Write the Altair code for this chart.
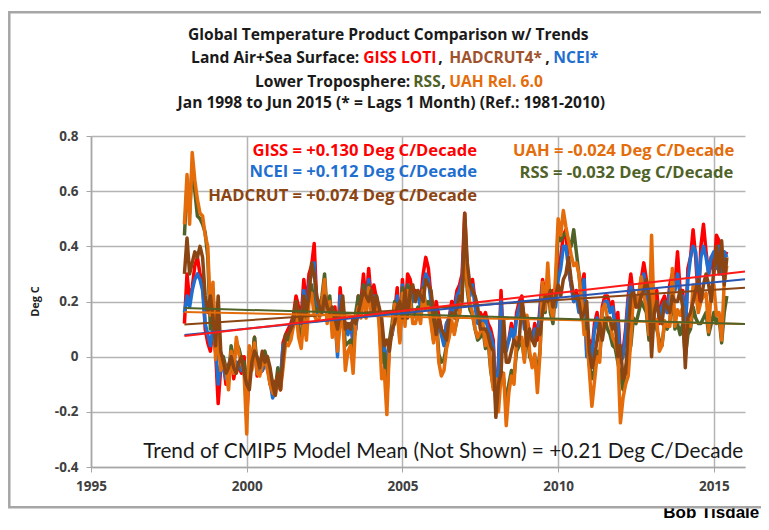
import altair as alt
import numpy as np
import pandas as pd

# ---------------- data (monthly, Jan 1998 .. Jun 2015) ----------------
giss = [
    0.12, 0.30, 0.20, 0.25, 0.33, 0.36, 0.30, 0.28, 0.10, 0.05, 0.02, 0.10,
    0.02, -0.17, -0.04, -0.02, -0.10, -0.03, 0.00, -0.08, -0.02, -0.04, -0.06, 0.00,
    -0.22, -0.05, -0.03, 0.07, -0.07, -0.06, -0.05, -0.02, -0.03, -0.10, -0.12, -0.09,
    -0.08, -0.12, 0.05, 0.08, 0.10, 0.12, 0.15, 0.22, 0.18, 0.14, 0.28, 0.18,
    0.30, 0.33, 0.41, 0.19, 0.20, 0.17, 0.22, 0.15, 0.19, 0.14, 0.18, 0.05,
    0.25, 0.14, 0.12, 0.10, 0.12, 0.05, 0.10, 0.22, 0.20, 0.30, 0.19, 0.32,
    0.20, 0.26, 0.21, 0.17, 0.00, 0.02, -0.16, 0.06, 0.08, 0.16, 0.25, 0.08,
    0.28, 0.15, 0.30, 0.28, 0.22, 0.24, 0.22, 0.20, 0.30, 0.36, 0.32, 0.22,
    0.12, 0.20, 0.15, 0.10, 0.06, 0.12, 0.14, 0.20, 0.18, 0.24, 0.26, 0.30,
    0.52, 0.30, 0.24, 0.28, 0.20, 0.14, 0.16, 0.14, 0.16, 0.12, 0.10, 0.06,
    -0.18, -0.02, 0.24, 0.02, 0.04, 0.06, 0.12, 0.06, 0.16, 0.20, 0.22, 0.12,
    0.14, 0.08, 0.06, 0.12, 0.06, 0.18, 0.28, 0.22, 0.28, 0.20, 0.24, 0.20,
    0.30, 0.36, 0.44, 0.46, 0.32, 0.26, 0.20, 0.24, 0.18, 0.26, 0.30, 0.02,
    0.06, 0.02, 0.12, 0.16, 0.06, 0.18, 0.22, 0.22, 0.18, 0.20, 0.12, 0.16,
    0.00, 0.02, 0.10, 0.22, 0.30, 0.22, 0.20, 0.22, 0.28, 0.34, 0.28, 0.12,
    0.22, 0.20, 0.24, 0.12, 0.20, 0.22, 0.16, 0.26, 0.30, 0.26, 0.38, 0.24,
    0.24, 0.08, 0.32, 0.36, 0.46, 0.36, 0.20, 0.40, 0.48, 0.38, 0.30, 0.36,
    0.30, 0.44, 0.42, 0.30, 0.36, 0.38,
]
ncei = [
    0.16, 0.22, 0.18, 0.24, 0.28, 0.30, 0.28, 0.24, 0.12, 0.08, 0.04, 0.10,
    0.04, -0.10, -0.03, -0.04, -0.08, -0.04, 0.00, -0.06, -0.02, -0.03, -0.05, -0.02,
    -0.18, -0.04, -0.03, 0.05, -0.06, -0.05, -0.05, -0.03, -0.04, -0.09, -0.15, -0.12,
    -0.10, -0.08, 0.04, 0.06, 0.08, 0.10, 0.14, 0.18, 0.16, 0.12, 0.24, 0.14,
    0.26, 0.30, 0.34, 0.16, 0.18, 0.16, 0.20, 0.14, 0.16, 0.12, 0.14, 0.00,
    0.22, 0.12, 0.10, 0.08, 0.12, 0.06, 0.10, 0.18, 0.18, 0.26, 0.16, 0.28,
    0.16, 0.22, 0.20, 0.16, 0.02, 0.04, -0.04, 0.06, 0.08, 0.14, 0.22, 0.06,
    0.26, 0.14, 0.26, 0.24, 0.20, 0.22, 0.22, 0.18, 0.26, 0.30, 0.28, 0.20,
    0.10, 0.16, 0.12, 0.08, 0.04, 0.12, 0.14, 0.18, 0.16, 0.22, 0.24, 0.28,
    0.46, 0.26, 0.22, 0.26, 0.18, 0.12, 0.14, 0.12, 0.14, 0.10, 0.08, 0.04,
    -0.16, -0.04, 0.20, 0.02, 0.02, 0.06, 0.10, 0.06, 0.14, 0.18, 0.20, 0.10,
    0.12, 0.06, 0.06, 0.10, 0.08, 0.16, 0.26, 0.22, 0.26, 0.18, 0.22, 0.18,
    0.28, 0.32, 0.40, 0.40, 0.32, 0.26, 0.20, 0.22, 0.16, 0.24, 0.28, 0.00,
    0.04, 0.00, 0.10, 0.14, 0.06, 0.16, 0.20, 0.20, 0.16, 0.18, 0.10, 0.12,
    -0.02, 0.00, 0.08, 0.20, 0.26, 0.22, 0.20, 0.22, 0.26, 0.30, 0.24, 0.10,
    0.20, 0.16, 0.20, 0.14, 0.18, 0.20, 0.16, 0.24, 0.26, 0.24, 0.30, 0.22,
    0.22, 0.10, 0.28, 0.36, 0.40, 0.38, 0.24, 0.36, 0.40, 0.36, 0.30, 0.36,
    0.38, 0.32, 0.40, 0.30, 0.38, 0.36,
]
hadcrut = [
    0.30, 0.43, 0.30, 0.34, 0.38, 0.36, 0.40, 0.36, 0.22, 0.16, 0.22, 0.14,
    0.04, 0.22, 0.02, -0.02, -0.06, -0.04, 0.00, -0.04, -0.06, -0.02, 0.00, -0.06,
    -0.10, -0.12, -0.02, 0.02, 0.00, -0.04, 0.02, -0.02, 0.00, -0.04, -0.10, -0.14,
    -0.06, -0.12, 0.00, 0.08, 0.08, 0.10, 0.12, 0.20, 0.16, 0.12, 0.22, 0.16,
    0.22, 0.34, 0.30, 0.22, 0.18, 0.16, 0.22, 0.18, 0.16, 0.18, 0.14, 0.10,
    0.16, 0.22, 0.10, 0.12, 0.10, 0.14, 0.12, 0.16, 0.20, 0.24, 0.22, 0.20,
    0.24, 0.16, 0.22, 0.18, 0.14, 0.04, 0.06, 0.02, 0.10, 0.12, 0.18, 0.20,
    0.14, 0.24, 0.14, 0.24, 0.26, 0.20, 0.24, 0.22, 0.20, 0.28, 0.26, 0.24,
    0.16, 0.08, 0.14, 0.10, 0.08, 0.06, 0.14, 0.16, 0.14, 0.18, 0.22, 0.20,
    0.52, 0.34, 0.26, 0.24, 0.22, 0.18, 0.10, 0.10, 0.10, 0.08, 0.04, 0.02,
    -0.22, -0.10, -0.06, 0.14, -0.02, -0.02, 0.02, 0.06, 0.04, 0.06, 0.20, 0.14,
    0.04, 0.10, 0.06, 0.04, 0.10, 0.08, 0.16, 0.22, 0.20, 0.24, 0.18, 0.22,
    0.26, 0.22, 0.28, 0.30, 0.36, 0.28, 0.22, 0.22, 0.20, 0.14, 0.16, 0.20,
    0.02, -0.04, 0.00, 0.06, 0.12, 0.06, 0.12, 0.14, 0.14, 0.10, 0.12, 0.00,
    0.04, -0.08, -0.06, 0.10, 0.22, 0.24, 0.18, 0.18, 0.22, 0.24, 0.28, 0.22,
    0.00, 0.16, 0.20, 0.14, 0.12, 0.20, 0.18, 0.16, 0.22, 0.20, 0.20, 0.24,
    0.18, -0.04, 0.14, 0.16, 0.20, 0.24, 0.28, 0.20, 0.26, 0.30, 0.26, 0.20,
    0.32, 0.40, 0.30, 0.42, 0.26, 0.36,
]
rss = [
    0.44, 0.62, 0.52, 0.70, 0.60, 0.51, 0.50, 0.48, 0.45, 0.36, 0.10, 0.24,
    0.02, 0.06, -0.02, 0.00, -0.04, -0.08, 0.04, -0.03, 0.05, 0.03, -0.01, -0.02,
    -0.15, 0.02, -0.02, 0.07, -0.03, -0.04, -0.01, 0.02, -0.02, -0.06, -0.10, -0.12,
    -0.04, -0.10, -0.02, 0.08, 0.06, 0.10, 0.14, 0.20, 0.10, 0.07, 0.18, 0.10,
    0.24, 0.26, 0.18, 0.17, 0.16, 0.22, 0.30, 0.16, 0.22, 0.10, 0.16, 0.06,
    0.15, 0.18, 0.04, 0.05, 0.06, 0.00, 0.16, 0.22, 0.18, 0.26, 0.18, 0.26,
    0.18, 0.20, 0.22, 0.14, -0.02, 0.01, -0.12, 0.06, 0.12, 0.20, 0.18, 0.08,
    0.25, 0.14, 0.26, 0.22, 0.14, 0.16, 0.18, 0.15, 0.25, 0.18, 0.20, 0.14,
    0.06, 0.16, 0.01, -0.02, -0.01, 0.04, 0.08, 0.12, 0.09, 0.13, 0.16, 0.24,
    0.36, 0.24, 0.17, 0.15, 0.10, 0.06, 0.07, 0.10, 0.03, 0.06, -0.05, -0.11,
    -0.12, -0.14, -0.05, -0.08, -0.17, -0.10, -0.05, -0.07, 0.02, 0.04, 0.06, -0.01,
    0.10, 0.00, -0.02, 0.00, -0.06, 0.02, 0.22, 0.16, 0.28, 0.16, 0.12, 0.24,
    0.46, 0.42, 0.44, 0.45, 0.42, 0.40, 0.46, 0.38, 0.30, 0.20, 0.12, 0.08,
    -0.03, -0.08, -0.05, 0.02, 0.00, 0.12, 0.14, 0.10, 0.08, 0.04, 0.03, -0.02,
    -0.07, -0.12, -0.04, 0.00, 0.04, 0.14, 0.12, 0.16, 0.20, 0.18, 0.16, 0.06,
    0.28, 0.14, 0.10, 0.06, 0.04, 0.12, 0.10, 0.12, 0.24, 0.10, 0.12, 0.08,
    0.12, 0.00, 0.08, 0.10, 0.18, 0.14, 0.12, 0.12, 0.14, 0.16, 0.08, 0.12,
    0.16, 0.12, 0.14, 0.05, 0.16, 0.22,
]
uah = [
    0.48, 0.66, 0.48, 0.74, 0.64, 0.57, 0.52, 0.51, 0.44, 0.40, 0.15, 0.27,
    -0.01, 0.08, -0.05, -0.02, -0.05, -0.12, 0.02, -0.06, 0.07, 0.01, -0.02, -0.06,
    -0.28, 0.04, -0.05, 0.05, -0.06, -0.07, -0.03, -0.01, -0.05, -0.10, -0.13, -0.14,
    -0.07, -0.12, -0.04, 0.05, 0.04, 0.06, 0.11, 0.16, 0.07, 0.03, 0.14, 0.06,
    0.20, 0.23, 0.15, 0.13, 0.14, 0.20, 0.28, 0.12, 0.20, 0.07, 0.13, 0.02,
    0.12, 0.15, -0.05, 0.02, 0.04, -0.06, 0.13, 0.18, 0.14, 0.24, 0.14, 0.25,
    0.16, 0.18, 0.21, 0.12, -0.08, -0.05, -0.21, 0.04, 0.09, 0.19, 0.17, 0.05,
    0.23, 0.11, 0.24, 0.20, 0.12, 0.12, 0.16, 0.12, 0.24, 0.17, 0.18, 0.12,
    0.05, 0.14, -0.02, -0.07, -0.05, 0.03, 0.07, 0.13, 0.08, 0.14, 0.15, 0.24,
    0.39, 0.26, 0.19, 0.16, 0.10, 0.07, 0.09, 0.12, 0.04, 0.08, -0.04, -0.12,
    -0.08, -0.20, -0.07, -0.06, -0.25, -0.13, -0.07, -0.10, 0.07, 0.06, 0.07, -0.02,
    0.15, 0.02, -0.04, 0.01, -0.13, 0.01, 0.27, 0.17, 0.34, 0.18, 0.14, 0.29,
    0.50, 0.44, 0.53, 0.47, 0.42, 0.37, 0.33, 0.34, 0.30, 0.21, 0.08, 0.09,
    -0.05, -0.18, -0.09, 0.00, -0.02, 0.17, 0.19, 0.14, 0.13, 0.07, 0.05, 0.01,
    -0.24, -0.15, -0.10, -0.07, 0.06, 0.22, 0.18, 0.22, 0.29, 0.22, 0.18, 0.08,
    0.44, 0.14, 0.13, 0.02, 0.04, 0.13, 0.11, 0.11, 0.32, 0.11, 0.17, 0.15,
    0.18, 0.02, 0.13, 0.11, 0.26, 0.23, 0.16, 0.20, 0.22, 0.23, 0.09, 0.25,
    0.26, 0.15, 0.16, 0.06, 0.27, 0.33,
]

series_names = ["GISS", "NCEI", "RSS", "UAH", "HADCRUT"]  # drawing order
series_colors = ["#ff0000", "#1f6fd0", "#4f6228", "#e46c0a", "#8b4513"]
series_values = [giss, ncei, rss, uah, hadcrut]

# trends as labelled on the chart (deg C / decade) and value at Jan 1998
trend_names = ["HADCRUT", "UAH", "RSS", "NCEI", "GISS"]
trend_colors = ["#8b4513", "#e46c0a", "#4f6228", "#2b55b0", "#ff1a1a"]
trend_per_decade = [0.074, -0.024, -0.032, 0.112, 0.130]
trend_at_1998 = [0.117, 0.162, 0.176, 0.079, 0.075]
trend_x = [1998.0, 2016.0]

x_ticks = [1995, 2000, 2005, 2010, 2015]
y_ticks = [-0.4, -0.2, 0.0, 0.2, 0.4, 0.6, 0.8]

# ---------------- build tables ----------------
n_months = len(giss)
time = 1998 + np.arange(n_months) / 12.0
rows = []
for name, vals in zip(series_names, series_values):
    for t, v in zip(time, vals):
        rows.append({"year": t, "value": v, "series": name})
df = pd.DataFrame(rows)

trows = []
for name, slope, start in zip(trend_names, trend_per_decade, trend_at_1998):
    for t in trend_x:
        trows.append({"year": t, "value": start + slope / 10.0 * (t - trend_x[0]), "series": name})
tdf = pd.DataFrame(trows)

W, H = 654, 331
FONT = "Open Sans"
TITLE_FS = 15.6
ANN_FS = 16.6
LAB_FS = 13.5

xscale = alt.Scale(domain=[1995, 2016], nice=False, zero=False)
yscale = alt.Scale(domain=[-0.4, 0.8], nice=False, zero=False)

x_axis = alt.Axis(values=x_ticks, format="d", title=None, grid=True, labelFlush=False,
                  gridColor="#b4b4b4", gridWidth=1.5, domainColor="#a6a6a6", domainWidth=1.5,
                  tickColor="#a6a6a6", tickSize=5, labelPadding=7,
                  labelFont=FONT, labelFontSize=LAB_FS, labelFontWeight="bold", labelColor="#404040")
y_axis = alt.Axis(values=y_ticks, title="Deg C", labelFlush=False,
                  labelExpr="datum.value == 0 ? '0' : (datum.value < 0 ? '-' + format(-datum.value, '.1f') : format(datum.value, '.1f'))",
                  grid=True, gridColor="#b4b4b4", gridWidth=1.5, domainColor="#a6a6a6", domainWidth=1.5,
                  tickColor="#a6a6a6", tickSize=5, labelPadding=8,
                  labelFont=FONT, labelFontSize=LAB_FS, labelFontWeight="bold", labelColor="#404040",
                  titleFont=FONT, titleFontSize=11, titleFontWeight="bold", titleColor="#222222",
                  titleX=-56, titleY=165, titleAngle=-90, titleBaseline="middle", titleAlign="center")

X = alt.X("year:Q", scale=xscale, axis=x_axis)
Y = alt.Y("value:Q", scale=yscale, axis=y_axis)

layers = []
for name, color in zip(series_names, series_colors):
    layers.append(
        alt.Chart(df[df.series == name]).mark_line(color=color, strokeWidth=3.5, strokeJoin="round").encode(x=X, y=Y)
    )

for name, color in zip(trend_names, trend_colors):
    layers.append(
        alt.Chart(tdf[tdf.series == name]).mark_line(color=color, strokeWidth=2).encode(x=X, y=Y)
    )


def txt(s, x, y, color="#1a1a1a", size=TITLE_FS, weight="bold", align="left", font=FONT, baseline="middle"):
    return alt.Chart(pd.DataFrame({"t": [s]})).mark_text(
        align=align, baseline=baseline, font=font, fontSize=size, fontWeight=weight, color=color
    ).encode(x=alt.value(x), y=alt.value(y), text="t:N")


ox, oy = 90.7, 135.7  # page position of plot origin (for reading offsets)

# title block
layers += [
    txt("Global Temperature Product Comparison w/ Trends", 388 - ox, 35 - oy, align="center"),
    txt("Land Air+Sea Surface:", 359 - ox, 58 - oy, align="right"),
    txt("GISS LOTI", 363 - ox, 58 - oy, color="#ff0000"),
    txt(",", 438 - ox, 58 - oy),
    txt("HADCRUT4*", 449 - ox, 58 - oy, color="#a0522d"),
    txt(",", 545 - ox, 58 - oy),
    txt("NCEI*", 553 - ox, 58 - oy, color="#1f6fd0"),
    txt("Lower Troposphere:", 410 - ox, 81.3 - oy, align="right"),
    txt("RSS", 413 - ox, 81.3 - oy, color="#4f6228"),
    txt(",", 441 - ox, 81.3 - oy),
    txt("UAH Rel. 6.0", 449 - ox, 81.3 - oy, color="#e46c0a"),
    txt("Jan 1998 to Jun 2015 (* = Lags 1 Month) (Ref.: 1981-2010)", 391 - ox, 103 - oy, align="center"),
]

# trend annotations
layers += [
    txt("GISS = +0.130 Deg C/Decade", 476.7 - ox, 150.7 - oy, color="#ff0000", align="right", size=ANN_FS),
    txt("NCEI = +0.112 Deg C/Decade", 476.7 - ox, 171.7 - oy, color="#1f6fd0", align="right", size=ANN_FS),
    txt("HADCRUT = +0.074 Deg C/Decade", 476.7 - ox, 196 - oy, color="#8b4513", align="right", size=ANN_FS),
    txt("UAH = -0.024 Deg C/Decade", 734 - ox, 150.7 - oy, color="#e46c0a", align="right", size=ANN_FS),
    txt("RSS = -0.032 Deg C/Decade", 733 - ox, 173 - oy, color="#4f6228", align="right", size=ANN_FS),
    txt("Trend of CMIP5 Model Mean (Not Shown) = +0.21 Deg C/Decade", 743 - ox, 451.7 - oy,
        color="#1a1a1a", size=20.8, weight="normal", align="right", font="Lato"),
    txt("Bob Tisdale", 759 - ox, 518 - oy, color="#000000", size=17, weight="bold",
        align="right", font="Liberation Sans", baseline="alphabetic"),
]

# outer frame
frame = alt.Chart(pd.DataFrame({"f": [0]})).mark_rect(
    fill=None, fillOpacity=0, stroke="#a6a6a6", strokeWidth=2.5
).encode(x=alt.value(9 - ox), x2=alt.value(790 - ox), y=alt.value(12 - oy), y2=alt.value(507 - oy))
layers.append(frame)

chart = alt.layer(*layers).properties(
    width=W, height=H,
    autosize=alt.AutoSizeParams(type="none"),
    padding={"left": 83, "top": 128, "right": 16, "bottom": 55},
    background="white",
).configure_view(stroke=None)

chart.save("out.html", embed_options={"renderer": "svg", "actions": False})
